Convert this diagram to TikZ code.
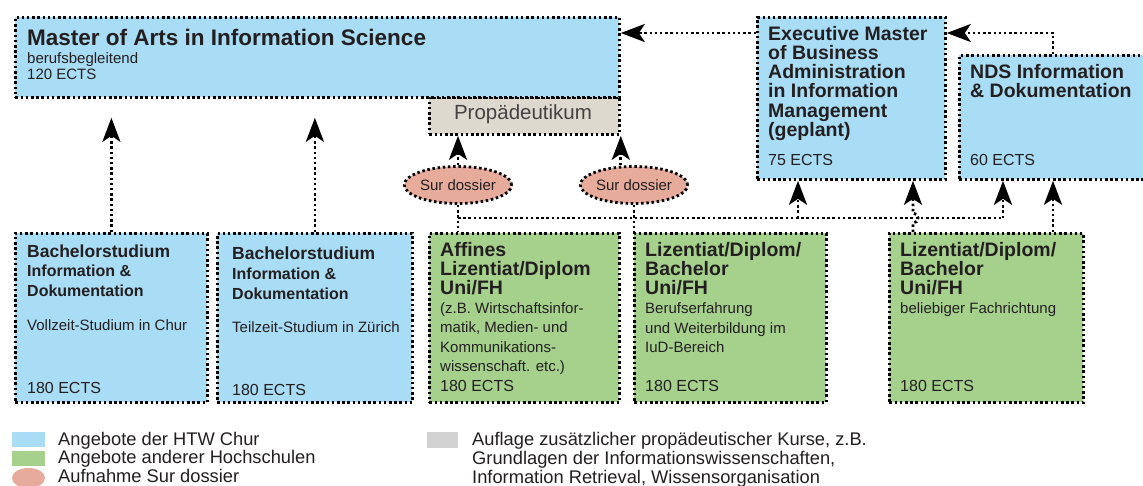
\documentclass[tikz,border=0pt]{standalone}
\usepackage{fontspec}
\setmainfont{Liberation Sans}
\usetikzlibrary{arrows.meta,shapes.geometric}
\definecolor{hblue}{HTML}{A9DCF5}
\definecolor{hgreen}{HTML}{A5D18D}
\definecolor{pgrey}{HTML}{DDD9CF}
\definecolor{spink}{HTML}{E6AB9B}
\definecolor{lgrey}{HTML}{D2D2D2}
\definecolor{ink}{HTML}{231F20}
\begin{document}
\begin{tikzpicture}[x=1pt,y=-1pt,
  dots/.style={line width=2.8pt, dash pattern=on 2.5pt off 2.7pt, draw=black},
  box/.style={dots, rectangle, anchor=north west, inner sep=0pt},
  lowbox/.style={box, minimum height=169pt},
  arr/.style={dots, -{Stealth[length=24pt,width=18pt,inset=6pt]}},
  swatch/.style={rectangle, anchor=north west, inner sep=0pt},
  tx/.style={anchor=base west, inner sep=0pt, text=ink},
  mtitle/.style={tx, font=\fontsize{22.5}{25}\selectfont\bfseries},
  ttl/.style={tx, font=\fontsize{19.5}{22}\selectfont\bfseries},
  btl/.style={tx, font=\fontsize{17.5}{20}\selectfont\bfseries},
  sub/.style={tx, font=\fontsize{16}{18}\selectfont\bfseries},
  sm/.style={tx, font=\fontsize{15}{17}\selectfont},
  ects/.style={tx, font=\fontsize{16}{18}\selectfont},
  leg/.style={tx, font=\fontsize{18.3}{20}\selectfont}
]
\useasboundingbox (0,0) rectangle (1143,485);
\clip (0,0) rectangle (1143,485);
\fill[white] (0,0) rectangle (1143,485);

% ---------- top boxes ----------
\node[box, fill=pgrey, minimum width=190pt, minimum height=37pt] (prop) at (428,96) {};
\node[box, fill=hblue, minimum width=604pt, minimum height=80pt] (master) at (14,16) {};
\node[box, fill=hblue, minimum width=188pt, minimum height=162pt] (exec) at (756,16) {};
\node[box, fill=hblue, minimum width=200pt, minimum height=124pt] (nds) at (958,54) {};

\node[mtitle] (mt1) at (27,45) {Master of Arts in Information Science};
\node[sm] (mt2) at (27,63) {berufsbegleitend};
\node[sm] (mt3) at (27,79) {120 ECTS};

\node[anchor=base, inner sep=0pt, text=ink!85, font=\fontsize{20.5}{22}\selectfont] (pt) at (523,119) {Propädeutikum};

\node[ttl] (ex1) at (768,40) {Executive Master};
\node[ttl] (ex2) at (768,59.3) {of Business};
\node[ttl] (ex3) at (768,78.6) {Administration};
\node[ttl] (ex4) at (768,97.9) {in Information};
\node[ttl] (ex5) at (768,117.2) {Management};
\node[ttl] (ex6) at (768,136.5) {(geplant)};
\node[ects] (ex7) at (768,165) {75 ECTS};

\node[ttl] (nd1) at (970,78.5) {NDS Information};
\node[ttl] (nd2) at (970,97.5) {\& Dokumentation};
\node[ects] (nd3) at (970,165) {60 ECTS};

% ---------- bottom boxes ----------
\node[lowbox, fill=hblue, minimum width=192pt] (b1) at (14,232) {};
\node[lowbox, fill=hblue, minimum width=195pt] (b2) at (216,232) {};
\node[lowbox, fill=hgreen, minimum width=190pt] (aff) at (428,232) {};
\node[lowbox, fill=hgreen, minimum width=192pt] (liz2) at (633,232) {};
\node[lowbox, fill=hgreen, minimum width=194pt] (liz3) at (888,232) {};

\node[btl] (b1a) at (27,257) {Bachelorstudium};
\node[sub] (b1b) at (27,276) {Information \&};
\node[sub] (b1c) at (27,296) {Dokumentation};
\node[sm] (b1d) at (27,330) {Vollzeit-Studium in Chur};
\node[ects] (b1e) at (27,393) {180 ECTS};

\node[btl] (b2a) at (232,259) {Bachelorstudium};
\node[sub] (b2b) at (232,279) {Information \&};
\node[sub] (b2c) at (232,299) {Dokumentation};
\node[sm] (b2d) at (232,332) {Teilzeit-Studium in Zürich};
\node[ects] (b2e) at (232,395) {180 ECTS};

\node[ttl] (af1) at (440,256) {Affines};
\node[ttl] (af2) at (440,275) {Lizentiat/Diplom};
\node[ttl] (af3) at (440,294) {Uni/FH};
\node[sm] (af4) at (440,313) {(z.B. Wirtschaftsinfor-};
\node[sm] (af5) at (440,332.5) {matik, Medien- und};
\node[sm] (af6) at (440,352) {Kommunikations-};
\node[sm] (af7) at (440,371.5) {wissenschaft. etc.)};
\node[ects] (af8) at (440,391) {180 ECTS};

\node[ttl] (lz1) at (645,256) {Lizentiat/Diplom/};
\node[ttl] (lz2) at (645,275) {Bachelor};
\node[ttl] (lz3) at (645,294) {Uni/FH};
\node[sm] (lz4) at (645,313) {Berufserfahrung};
\node[sm] (lz5) at (645,333) {und Weiterbildung im};
\node[sm] (lz6) at (645,352) {IuD-Bereich};
\node[ects] (lz7) at (645,391) {180 ECTS};

\node[ttl] (lt1) at (900,256) {Lizentiat/Diplom/};
\node[ttl] (lt2) at (900,275) {Bachelor};
\node[ttl] (lt3) at (900,294) {Uni/FH};
\node[sm] (lt4) at (900,313) {beliebiger Fachrichtung};
\node[ects] (lt5) at (900,391) {180 ECTS};

% ---------- Sur dossier ----------
\node[dots, ellipse, fill=spink, minimum width=97pt, minimum height=37pt, inner sep=0pt,
      text=ink, font=\fontsize{15}{17}\selectfont] (e1) at (458,185) {Sur dossier};
\node[dots, ellipse, fill=spink, minimum width=97pt, minimum height=37pt, inner sep=0pt,
      text=ink, font=\fontsize{15}{17}\selectfont] (e2) at (634,185) {Sur dossier};

% ---------- connectors ----------
\draw[arr, shorten >=19pt] (b1.north) -- (b1.north |- master.south);
\draw[arr, shorten >=19pt] (b2.north) -- (b2.north |- master.south);

\draw[arr] (e1.north) -- (e1.north |- prop.south);
\draw[arr] (prop.south east |- e2.north) -- (prop.south east);
\draw[dots] (e1.south) -- (e1.south |- aff.north);
\draw[dots] (e2.south) -- (e2.south |- liz2.north);

\coordinate (h1) at (458,218);
\coordinate (h2) at (1003,218);
\coordinate (h3) at (798,218);
\draw[dots] (h1) -- (h2);
\draw[arr] (h3) -- (h3 |- exec.south);
\draw[arr] (h2) -- (h2 |- nds.south);

\coordinate (la) at (913,232);
\coordinate (lb) at (1053,232);
\draw[arr] (la) -- (913,223) arc[start angle=-90, end angle=90, radius=5pt] -- (la |- exec.south);
\draw[arr] (lb) -- (lb |- nds.south);

\coordinate (ea) at (756,33);
\draw[arr] (ea) -- (ea -| master.east);
\coordinate (na) at (1053,54);
\draw[arr] (na) |- (exec.east |- ea);

% ---------- legend ----------
\node[swatch, fill=hblue, minimum width=33pt, minimum height=15pt] (sw1) at (12,432) {};
\node[swatch, fill=hgreen, minimum width=33pt, minimum height=15pt] (sw2) at (12,451) {};
\node[ellipse, fill=spink, minimum width=33pt, minimum height=20pt, inner sep=0pt] (sw3) at (28.5,478) {};
\node[swatch, fill=lgrey, minimum width=31pt, minimum height=16pt] (sw4) at (427,432) {};

\node[leg] (lg1) at (58,445) {Angebote der HTW Chur};
\node[leg] (lg2) at (58,463.5) {Angebote anderer Hochschulen};
\node[leg] (lg3) at (58,482) {Aufnahme Sur dossier};
\node[leg] (lg4) at (472,445) {Auflage zusätzlicher propädeutischer Kurse, z.B.};
\node[leg] (lg5) at (472,464) {Grundlagen der Informationswissenschaften,};
\node[leg] (lg6) at (472,483) {Information Retrieval, Wissensorganisation};
\end{tikzpicture}
\end{document}
